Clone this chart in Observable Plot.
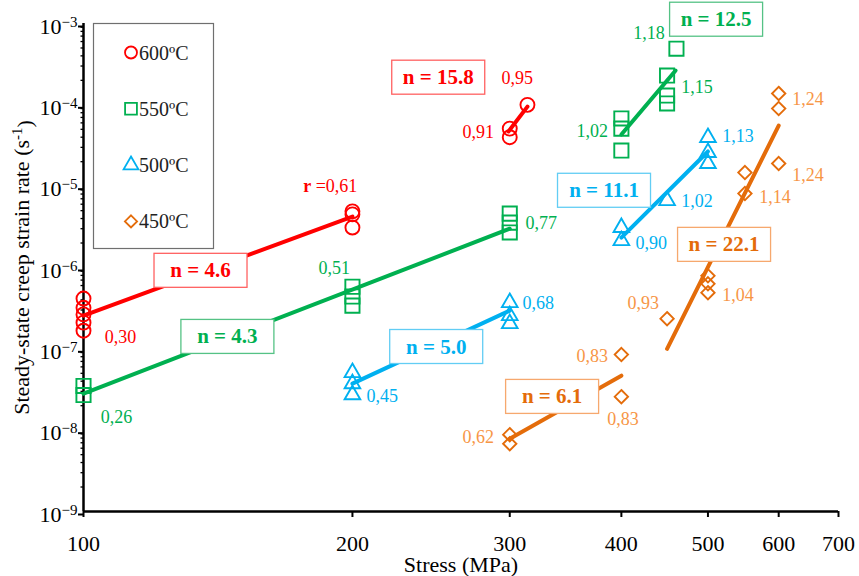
<!DOCTYPE html>
<html><head><meta charset="utf-8">
<script src="https://cdn.jsdelivr.net/npm/d3@7"></script>
<script src="https://cdn.jsdelivr.net/npm/@observablehq/plot@0.6"></script>
<style>
body{margin:0;background:#fff;}
#chart svg{font-family:"Liberation Serif","Times New Roman",serif;}
</style>
</head><body><div id="chart"></div>
<script>
// ---- series meta ----
const temps = ["600ºC", "550ºC", "500ºC", "450ºC"];
const markerColors = ["#ff0000", "#00b050", "#00b0f0", "#e46c0a"];
const labelColors = ["#ff0000", "#00b050", "#00b0f0", "#f79646"];
const boxColors = ["#ff6161", "#55c285", "#62cdf4", "#f6a86e"];
const symbolNames = ["circle", "square", "triangle", "diamond2"];
const symbolR = [7, 8, 5.8, 6];

// ---- measured points (stress MPa, rate 1/s) ----
const stress600 = [100, 100, 100, 100, 100, 200, 200, 200, 300, 300, 314];
const rate600 = [4.15e-7, 3.2e-7, 2.65e-7, 2.1e-7, 1.67e-7, 4.9e-6, 4.5e-6, 3.1e-6, 5.1e-5, 4.0e-5, 1.0e-4];
const stress550 = [100, 100, 200, 200, 200, 300, 300, 300, 400, 400, 400, 450, 450, 450, 461];
const rate550 = [3.5e-8, 2.7e-8, 5.8e-7, 4.4e-7, 3.4e-7, 4.6e-6, 3.56e-6, 2.7e-6, 6.8e-5, 5.1e-5, 2.74e-5, 2.29e-4, 1.3e-4, 1.04e-4, 4.9e-4];
const stress500 = [200, 200, 200, 300, 300, 300, 400, 400, 450, 500, 500, 500];
const rate500 = [5.1e-8, 3.73e-8, 2.73e-8, 3.7e-7, 2.56e-7, 2.04e-7, 3.1e-6, 2.14e-6, 6.65e-6, 3.96e-5, 2.59e-5, 1.9e-5];
const stress450 = [300, 300, 400, 400, 450, 500, 500, 500, 550, 550, 600, 600, 600];
const rate450 = [8.8e-9, 6.8e-9, 8.5e-8, 2.58e-8, 2.35e-7, 7.9e-7, 6.3e-7, 4.9e-7, 1.47e-5, 8.1e-6, 1.38e-4, 9.0e-5, 1.9e-5];
const pointStress = [stress600, stress550, stress500, stress450];
const pointRate = [rate600, rate550, rate500, rate450];

// ---- fitted power-law lines ----
const fitSeries = [0, 0, 1, 1, 2, 2, 3, 3];
const fitX1 = [100, 299, 100, 400, 200, 400, 300, 450];
const fitY1 = [2.56e-7, 4.7e-5, 2.81e-8, 4.31e-5, 3.73e-8, 2.33e-6, 7.85e-9, 1.0e-7];
const fitX2 = [200, 314, 300, 460, 300, 500, 400, 600];
const fitY2 = [4.23e-6, 9.5e-5, 3.0e-6, 2.64e-4, 2.95e-7, 2.67e-5, 4.68e-8, 5.56e-5];

// ---- stress exponent boxes ----
const nText = ["n = 4.6", "n = 15.8", "n = 4.3", "n = 12.5", "n = 5.0", "n = 11.1", "n = 6.1", "n = 22.1"];
const nX = [135.2, 249.5, 144.9, 510.6, 248.2, 382.5, 334.6, 521.2];
const nY = [9.16e-7, 2.17e-4, 1.41e-7, 1.12e-3, 1.06e-7, 8.83e-6, 2.58e-8, 1.91e-6];

// ---- r labels ----
const labelText = ["0,30", "r =0,61", "0,91", "0,95",
  "0,26", "0,51", "0,77", "1,02", "1,18", "1,15",
  "0,45", "0,68", "0,90", "1,02", "1,13",
  "0,62", "0,83", "0,83", "0,93", "1,04", "1,14", "1,24", "1,24"];
const labelSeries = [0, 0, 0, 0, 1, 1, 1, 1, 1, 1, 2, 2, 2, 2, 2, 3, 3, 3, 3, 3, 3, 3, 3];
const labelX = [110.0, 188.9, 276.6, 305.9,
  108.9, 190.9, 325.3, 371.0, 429.6, 486.1,
  216.0, 322.8, 431.9, 486.1, 540.4,
  276.6, 371.0, 401.8, 423.1, 540.4, 594.3, 647.1, 647.1];
const labelY = [1.37e-7, 9.9e-6, 4.56e-5, 2.11e-4,
  1.43e-8, 9.7e-7, 3.47e-6, 4.7e-5, 7.5e-4, 1.63e-4,
  2.58e-8, 3.6e-7, 1.97e-6, 6.47e-6, 4.07e-5,
  8.3e-9, 8.0e-8, 1.35e-8, 3.6e-7, 4.5e-7, 7.24e-6, 1.16e-4, 1.35e-5];

// ---- axes ----
const xTicks = [100, 200, 300, 400, 500, 600, 700];
const yTicks = [1e-9, 1e-8, 1e-7, 1e-6, 1e-5, 1e-4, 1e-3];
const yMinor = [];
for (let e = -9; e < -3; e++) for (let k = 2; k <= 9; k++) yMinor.push(k * Math.pow(10, e));
const xTitle = "Stress (MPa)";
const yTitle = "Steady-state creep strain rate (s-1)";

// ---- build marks ----
const idx = (a) => a.map((_, i) => i);
const marks = [];
marks.push(Plot.axisY({ticks: yMinor, tickSize: 2.5, tickFormat: () => "", label: null, strokeWidth: 1.3}));
marks.push(Plot.axisY({ticks: yTicks, tickSize: 5, tickPadding: 1, fontSize: 22, label: null, strokeWidth: 2,
  tickFormat: d => String(Math.round(Math.log10(d))), dy: 3}));
marks.push(Plot.axisX({ticks: xTicks, tickSize: 6, tickPadding: 18, fontSize: 22, label: null, strokeWidth: 2,
  tickFormat: d => String(d)}));
marks.push(Plot.ruleX([100], {strokeWidth: 2.5}));
marks.push(Plot.ruleY([1e-9], {strokeWidth: 2.5}));

temps.forEach((t, s) => {
  const st = pointStress[s], rt = pointRate[s];
  marks.push(Plot.dot(idx(st), {x: i => st[i], y: i => rt[i], symbol: symbolNames[s], r: symbolR[s],
    stroke: markerColors[s], fill: "none", strokeWidth: 1.9}));
});
temps.forEach((t, s) => {
  const ids = idx(fitSeries).filter(i => fitSeries[i] === s);
  marks.push(Plot.link(ids, {x1: i => fitX1[i], y1: i => fitY1[i], x2: i => fitX2[i], y2: i => fitY2[i],
    stroke: markerColors[s], strokeWidth: 4, strokeLinecap: "round"}));
});
temps.forEach((t, s) => {
  const ids = idx(labelSeries).filter(i => labelSeries[i] === s);
  marks.push(Plot.text(ids, {x: i => labelX[i], y: i => labelY[i], text: i => labelText[i],
    fill: labelColors[s], fontSize: 18}));
});
temps.forEach((t, s) => {
  const ids = idx(fitSeries).filter(i => fitSeries[i] === s);
  marks.push(Plot.text(ids, {x: i => nX[i], y: i => nY[i], text: i => nText[i],
    fill: markerColors[s], fontSize: 21, fontWeight: "bold"}));
});
marks.push(Plot.text([xTitle], {text: d => d, frameAnchor: "bottom", textAnchor: "middle", lineAnchor: "middle", dy: 53, fontSize: 22, fill: "#000"}));
marks.push(Plot.text([yTitle], {text: d => d, frameAnchor: "left", textAnchor: "middle", lineAnchor: "middle", dx: -62, rotate: -90, fontSize: 22, fill: "#000"}));

const chart = Plot.plot({
  width: 859, height: 576,
  marginLeft: 83, marginRight: 21, marginTop: 23, marginBottom: 65,
  style: {fontFamily: "'Liberation Serif','Times New Roman',serif", fontSize: "22px", color: "#000", background: "#fff", overflow: "visible"},
  x: {type: "log", domain: [100, 700]},
  y: {type: "log", domain: [1e-9, 1e-3]},
  marks
});
document.getElementById("chart").appendChild(chart);

const svg = d3.select(chart);
const NS = "http://www.w3.org/2000/svg";

// superscript y tick labels
svg.selectAll('g[aria-label="y-axis tick label"] text').each(function () {
  const exp = this.textContent;
  if (!exp) return;
  const t = d3.select(this);
  t.text(null);
  t.append("tspan").text("10");
  t.append("tspan").attr("dy", "-0.45em").attr("font-size", "15px").text(exp.replace("-", "\u2212"));
});

svg.selectAll("text").each(function () {
  const s = this.textContent;
  const t = d3.select(this);
  if (s === yTitle) {
    t.text(null);
    t.append("tspan").text("Steady-state creep strain rate (s");
    t.append("tspan").attr("dy", "-0.45em").attr("font-size", "15px").text("-1");
    t.append("tspan").attr("dy", "0.45em").text(")");
  } else if (s.startsWith("r =")) {
    t.text(null);
    t.append("tspan").attr("font-weight", "bold").text("r");
    t.append("tspan").text(s.slice(1));
  } else if (nText.includes(s)) {
    const k = nText.indexOf(s);
    const bb = this.getBBox();
    const r = document.createElementNS(NS, "rect");
    const tr = this.getAttribute("transform");
    if (tr) r.setAttribute("transform", tr);
    r.setAttribute("x", bb.x + bb.width / 2 - 46.5);
    r.setAttribute("y", bb.y + bb.height / 2 - 17);
    r.setAttribute("width", 93);
    r.setAttribute("height", 34);
    r.setAttribute("fill", "#fff");
    r.setAttribute("stroke", boxColors[fitSeries[k]]);
    r.setAttribute("stroke-width", 1.3);
    this.parentNode.insertBefore(r, this);
  }
});

// legend
const lg = svg.append("g").attr("aria-label", "legend").attr("text-anchor", "start");
lg.append("rect").attr("x", 93.5).attr("y", 23.5).attr("width", 120).attr("height", 225)
  .attr("fill", "#fff").attr("stroke", "#6f6f6f").attr("stroke-width", 1.2);
const d3Sym = {circle: d3.symbolCircle, square: d3.symbolSquare, triangle: d3.symbolTriangle, diamond2: d3.symbolDiamond2};
const legSize = [113, 140, 95, 95];
temps.forEach((t, s) => {
  const cy = 52.5 + s * 56.3;
  lg.append("path").attr("d", d3.symbol(d3Sym[symbolNames[s]], legSize[s])())
    .attr("transform", `translate(131,${cy})`).attr("fill", "none")
    .attr("stroke", markerColors[s]).attr("stroke-width", 1.8);
  lg.append("text").attr("x", 139).attr("y", cy).attr("dy", "0.35em").attr("text-anchor", "start")
    .attr("font-size", 20).attr("fill", "#222").text(t);
});
</script>
</body></html>
